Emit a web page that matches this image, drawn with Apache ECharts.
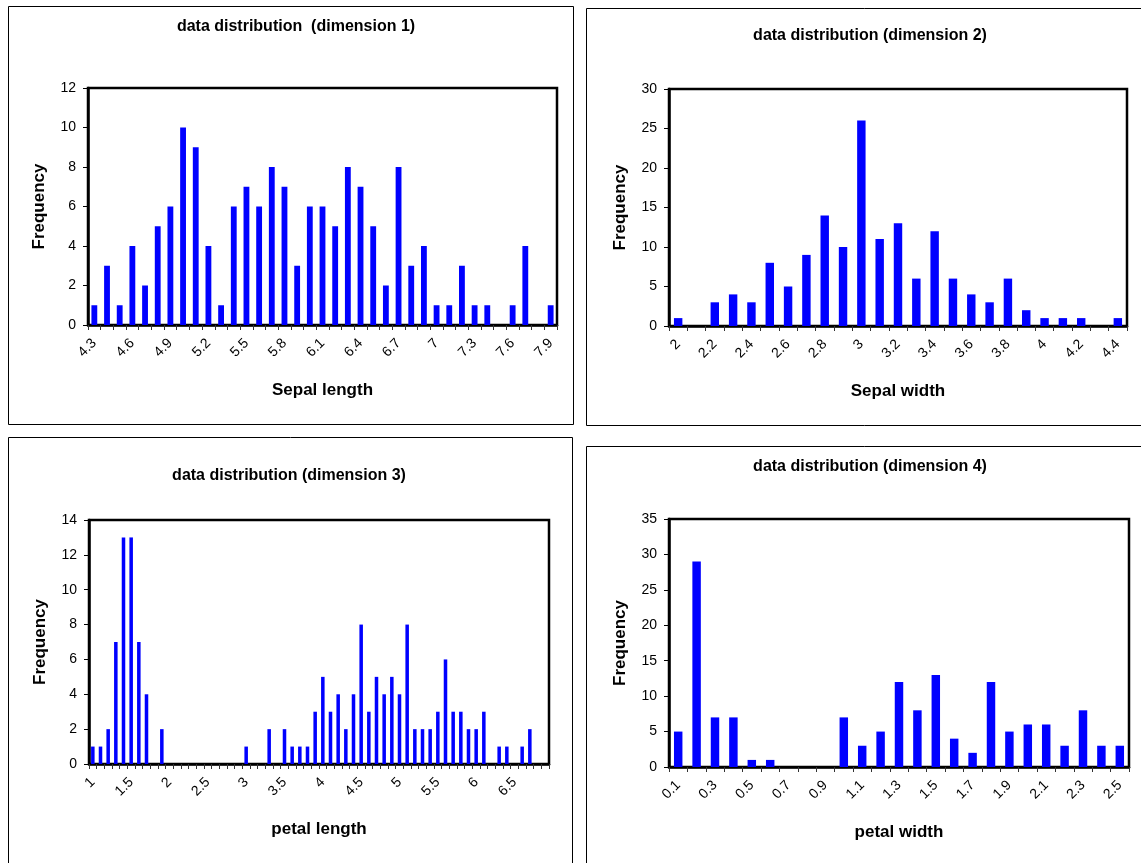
<!DOCTYPE html>
<html>
<head>
<meta charset="utf-8">
<script src="https://cdn.jsdelivr.net/npm/echarts@6/dist/echarts.min.js"></script>
<style>
html,body{margin:0;padding:0;background:#fff;}
#c{width:1141px;height:863px;}
</style>
</head>
<body>
<div id="c"></div>
<script>
// ---- data ----
var titles = ['data distribution  (dimension 1)', 'data distribution (dimension 2)', 'data distribution (dimension 3)', 'data distribution (dimension 4)'];
var xNames = ['Sepal length', 'Sepal width', 'petal length', 'petal width'];
var yName = 'Frequency';

var sepalLengthCats = ['4.3','4.4','4.5','4.6','4.7','4.8','4.9','5','5.1','5.2','5.3','5.4','5.5','5.6','5.7','5.8','5.9','6','6.1','6.2','6.3','6.4','6.5','6.6','6.7','6.8','6.9','7','7.1','7.2','7.3','7.4','7.5','7.6','7.7','7.8','7.9'];
var sepalLengthFreq = [1,3,1,4,2,5,6,10,9,4,1,6,7,6,8,7,3,6,6,5,8,7,5,2,8,3,4,1,1,3,1,1,0,1,4,0,1];

var sepalWidthCats = ['2','2.1','2.2','2.3','2.4','2.5','2.6','2.7','2.8','2.9','3','3.1','3.2','3.3','3.4','3.5','3.6','3.7','3.8','3.9','4','4.1','4.2','4.3','4.4'];
var sepalWidthFreq = [1,0,3,4,3,8,5,9,14,10,26,11,13,6,12,6,4,3,6,2,1,1,1,0,1];

var petalLengthCats = ['1','1.1','1.2','1.3','1.4','1.5','1.6','1.7','1.8','1.9','2','2.1','2.2','2.3','2.4','2.5','2.6','2.7','2.8','2.9','3','3.1','3.2','3.3','3.4','3.5','3.6','3.7','3.8','3.9','4','4.1','4.2','4.3','4.4','4.5','4.6','4.7','4.8','4.9','5','5.1','5.2','5.3','5.4','5.5','5.6','5.7','5.8','5.9','6','6.1','6.2','6.3','6.4','6.5','6.6','6.7','6.8','6.9'];
var petalLengthFreq = [1,1,2,7,13,13,7,4,0,2, 0,0,0,0,0,0,0,0,0,0, 1,0,0,2,0,2,1,1,1,3, 5,3,4,2,4,8,3,5,4,5, 4,8,2,2,2,3,6,3,3,2, 2,3,0,1,1,0,1,2,0,0];

var petalWidthCats = ['0.1','0.2','0.3','0.4','0.5','0.6','0.7','0.8','0.9','1','1.1','1.2','1.3','1.4','1.5','1.6','1.7','1.8','1.9','2','2.1','2.2','2.3','2.4','2.5'];
var petalWidthFreq = [5,29,7,7,1,1,0,0,0,7,3,5,12,8,13,4,2,12,5,6,6,3,8,3,3];

var yMax = [12, 30, 14, 35];
var yStep = [2, 5, 2, 5];
var labelEvery = [3, 2, 5, 2];

var cats = [sepalLengthCats, sepalWidthCats, petalLengthCats, petalWidthCats];
var freqs = [sepalLengthFreq, sepalWidthFreq, petalLengthFreq, petalWidthFreq];

// ---- layout ----
var grids = [
  {left: 88, top: 88, width: 469, height: 237},
  {left: 669, top: 89, width: 458, height: 237},
  {left: 89, top: 520, width: 460, height: 244},
  {left: 669, top: 519, width: 460, height: 248}
];
var titlePos = [[291, 14], [865, 23], [284, 463], [865, 454]];
var panels = [
  {x: 8.5, y: 6.5, w: 565, h: 418},
  {x: 586.5, y: 8.5, w: 570, h: 417},
  {x: 8.5, y: 437.5, w: 564, h: 440},
  {x: 586.5, y: 446.5, w: 570, h: 440}
];

var FONT = '"Liberation Sans", Arial, sans-serif';

var option = {
  animation: false,
  backgroundColor: '#fff',
  title: titles.map(function (t, i) {
    return {
      text: t, left: titlePos[i][0], top: titlePos[i][1], textAlign: 'center',
      textStyle: {fontFamily: FONT, fontSize: 16, fontWeight: 'bold', color: '#000'}
    };
  }),
  graphic: panels.map(function (p) {
    return {type: 'rect', shape: {x: p.x, y: p.y, width: p.w, height: p.h}, style: {fill: 'none', stroke: '#000', lineWidth: 1}, z: -10};
  }),
  grid: grids.map(function (g) {
    return {left: g.left, top: g.top, width: g.width, height: g.height, show: true, borderColor: '#000', borderWidth: 2.5, backgroundColor: '#fff', containLabel: false, outerBoundsMode: 'none'};
  }),
  xAxis: cats.map(function (c, i) {
    return {
      type: 'category', gridIndex: i, data: c, boundaryGap: true,
      name: xNames[i], nameLocation: 'middle', nameGap: 57,
      nameTextStyle: {fontFamily: FONT, fontSize: 17, fontWeight: 'bold', color: '#000'},
      axisLine: {show: true, lineStyle: {color: '#000', width: 2.5}},
      axisTick: {show: true, interval: 0, length: 5, lineStyle: {color: '#333', width: 1}},
      axisLabel: {
        interval: labelEvery[i] - 1, rotate: 45, margin: 16,
        fontFamily: FONT, fontSize: 14, color: '#000'
      },
      splitLine: {show: false}
    };
  }),
  yAxis: yMax.map(function (m, i) {
    return {
      type: 'value', gridIndex: i, min: 0, max: m, interval: yStep[i],
      name: yName, nameLocation: 'middle', nameGap: 40, nameRotate: 90,
      nameTextStyle: {fontFamily: FONT, fontSize: 17, fontWeight: 'bold', color: '#000'},
      axisLine: {show: true, lineStyle: {color: '#000', width: 2.5}},
      axisTick: {show: true, length: 5, lineStyle: {color: '#000', width: 1}},
      axisLabel: {margin: 12, fontFamily: FONT, fontSize: 14, color: '#000'},
      splitLine: {show: false}
    };
  }),
  series: freqs.map(function (f, i) {
    return {
      type: 'bar', xAxisIndex: i, yAxisIndex: i, data: f,
      barWidth: '46%', itemStyle: {color: '#0000FF'}
    };
  })
};

var chart = echarts.init(document.getElementById('c'), null, {renderer: 'canvas'});
chart.setOption(option);
</script>
</body>
</html>
